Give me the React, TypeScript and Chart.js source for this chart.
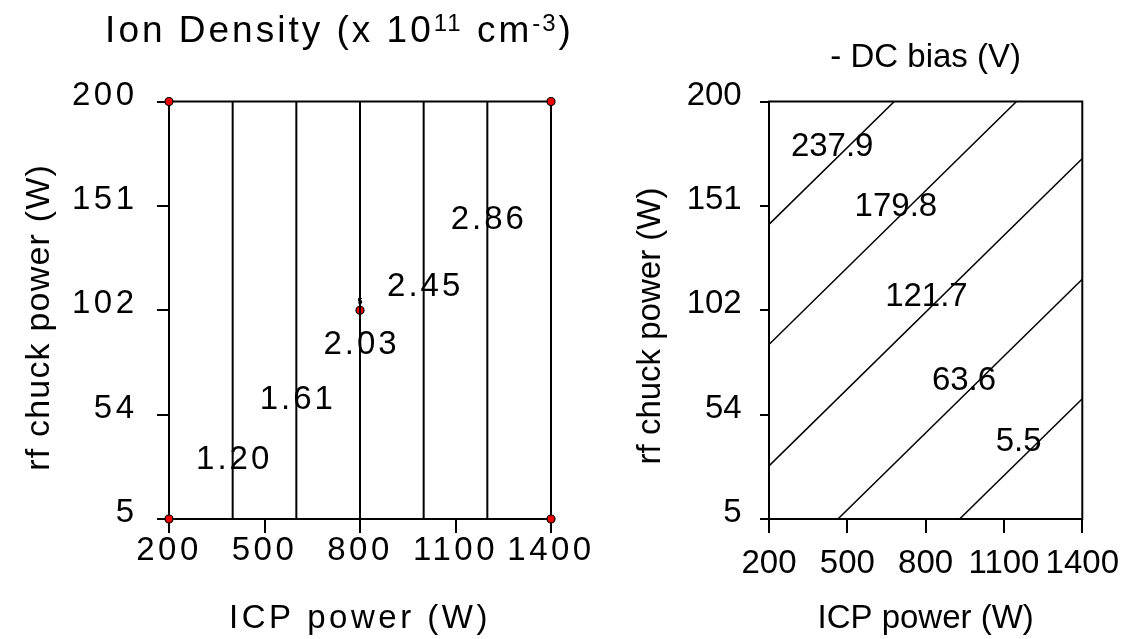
import React, { useEffect, useRef } from 'react';
import { Chart, registerables } from 'chart.js';

Chart.register(...registerables);

const FONT = "'Liberation Sans', Arial, Helvetica, sans-serif";

// Shared axes: ICP power (x) and rf chuck power (y)
const icpTicks = [200, 500, 800, 1100, 1400];
const rfTickValues = [5, 53.75, 102.5, 151.25, 200];
const rfTickLabels = ['5', '54', '102', '151', '200'];

// Ion density contours (x 10^11 cm^-3): vertical iso-lines
const densityLevels = ['1.20', '1.61', '2.03', '2.45', '2.86'];
const densityLineICP = [400, 600, 800, 1000, 1200];
const densityLabelRF = [32.8, 60.6, 86.3, 113.5, 144.7];

// Design points of the experiment
const runICP = [200, 200, 1400, 1400, 800];
const runRF = [5, 200, 5, 200, 102.5];
const centerRunLabel = '5';

// -DC bias contours (V): straight iso-lines between two end points
const biasLevels = ['237.9', '179.8', '121.7', '63.6', '5.5'];
const biasStartICP = [200, 200, 200, 464, 930];
const biasStartRF = [142.6, 86.5, 29.8, 5, 5];
const biasEndICP = [680, 1148, 1400, 1400, 1400];
const biasEndRF = [200, 200, 173.4, 117.0, 61.2];
const biasLabelICP = [442, 686, 803, 947, 1156];
const biasLabelRF = [178.9, 150.8, 108.7, 69.7, 40.9];

const densityTitle = [
  { text: 'Ion Density (x 10', sup: false },
  { text: '11', sup: true },
  { text: ' cm', sup: false },
  { text: '-3', sup: true },
  { text: ')', sup: false },
];
const biasTitle = '- DC bias (V)';
const xTitle = 'ICP power (W)';
const yTitle = 'rf chuck power (W)';

function spacedWidth(ctx: CanvasRenderingContext2D, text: string, spacing: number) {
  (ctx as any).letterSpacing = '0px';
  return ctx.measureText(text).width + Math.max(0, text.length - 1) * spacing;
}

function drawSpaced(ctx: CanvasRenderingContext2D, text: string, x: number, y: number, spacing: number) {
  (ctx as any).letterSpacing = `${spacing}px`;
  ctx.textAlign = 'left';
  ctx.fillText(text, x, y);
  (ctx as any).letterSpacing = '0px';
}

function drawCentered(ctx: CanvasRenderingContext2D, text: string, cx: number, cy: number, spacing: number) {
  const w = spacedWidth(ctx, text, spacing);
  drawSpaced(ctx, text, cx - w / 2, cy, spacing);
}

function xScale(tickPadding: number) {
  return {
    type: 'linear' as const,
    min: icpTicks[0],
    max: icpTicks[icpTicks.length - 1],
    afterBuildTicks: (s: any) => {
      s.ticks = icpTicks.map((value) => ({ value }));
    },
    afterFit: (s: any) => {
      s.height = 120;
    },
    ticks: {
      color: '#000',
      font: { family: FONT, size: 33 },
      padding: tickPadding,
      maxRotation: 0,
      autoSkip: false,
      callback: (v: any) => String(v),
    },
    grid: { drawOnChartArea: false, color: '#000', lineWidth: 2, tickLength: 14 },
    border: { display: true, color: '#000', width: 2 },
    title: {
      display: true,
      text: xTitle,
      color: '#000',
      font: { family: FONT, size: 33 },
      padding: { top: 0, bottom: 0 },
    },
  };
}

function yScale(tickLength: number, tickPadding: number) {
  return {
    type: 'linear' as const,
    min: rfTickValues[0],
    max: rfTickValues[rfTickValues.length - 1],
    afterBuildTicks: (s: any) => {
      s.ticks = rfTickValues.map((value) => ({ value }));
    },
    afterFit: (s: any) => {
      s.width = 169;
    },
    ticks: {
      color: '#000',
      font: { family: FONT, size: 33 },
      padding: tickPadding,
      labelOffset: -6,
      autoSkip: false,
      callback: (_v: any, i: number) => rfTickLabels[i],
    },
    grid: { drawOnChartArea: false, color: '#000', lineWidth: 2, tickLength },
    border: { display: true, color: '#000', width: 2 },
  };
}

function drawYTitle(ctx: CanvasRenderingContext2D, cx: number, cy: number, size: number, spacing: number) {
  ctx.save();
  ctx.translate(cx, cy);
  ctx.rotate(-Math.PI / 2);
  ctx.font = `${size}px ${FONT}`;
  ctx.fillStyle = '#000';
  ctx.textBaseline = 'middle';
  drawCentered(ctx, yTitle, 0, 0, spacing);
  ctx.restore();
}

function densityConfig(): any {
  const lineSets = densityLineICP.map((icp) => ({
    data: [
      { x: icp, y: rfTickValues[0] },
      { x: icp, y: rfTickValues[rfTickValues.length - 1] },
    ],
    showLine: true,
    borderColor: '#000',
    borderWidth: 2,
    pointRadius: 0,
  }));
  const runs = {
    data: runICP.map((x, i) => ({ x, y: runRF[i] })),
    showLine: false,
    pointRadius: 4,
    pointBackgroundColor: '#ee0000',
    pointBorderColor: '#000',
    pointBorderWidth: 1.2,
    clip: false,
  };
  const decor = {
    id: 'densityDecor',
    beforeDraw(chart: any) {
      chart.ctx.letterSpacing = '3.5px';
    },
    beforeDatasetsDraw(chart: any) {
      const { ctx, chartArea: a, scales } = chart;
      ctx.save();
      ctx.letterSpacing = '0px';
      ctx.strokeStyle = '#000';
      ctx.lineWidth = 2;
      ctx.strokeRect(a.left, a.top, a.right - a.left, a.bottom - a.top);
      ctx.fillStyle = '#000';
      ctx.font = `33px ${FONT}`;
      ctx.textBaseline = 'middle';
      densityLevels.forEach((lvl, i) => {
        const px = scales.x.getPixelForValue(densityLineICP[i]);
        const py = scales.y.getPixelForValue(densityLabelRF[i]);
        drawCentered(ctx, lvl, px, py, 3);
      });
      ctx.restore();
    },
    afterDraw(chart: any) {
      const { ctx, scales } = chart;
      ctx.save();
      ctx.letterSpacing = '0px';
      ctx.fillStyle = '#000';
      // run number above the centre point
      ctx.font = `bold 9px ${FONT}`;
      ctx.textAlign = 'center';
      ctx.textBaseline = 'alphabetic';
      ctx.fillText(
        centerRunLabel,
        scales.x.getPixelForValue(runICP[4]),
        scales.y.getPixelForValue(runRF[4]) - 6
      );
      // title with superscripts
      const main = 37;
      const sup = 24;
      const spacing = 3;
      const supSpacing = 2;
      let total = 0;
      const widths = densityTitle.map((p) => {
        ctx.font = `${p.sup ? sup : main}px ${FONT}`;
        const w = spacedWidth(ctx, p.text, p.sup ? supSpacing : spacing) + spacing;
        total += w;
        return w;
      });
      total -= spacing;
      let x = 338 - total / 2;
      const base = 42;
      ctx.textBaseline = 'alphabetic';
      densityTitle.forEach((p, i) => {
        ctx.font = `${p.sup ? sup : main}px ${FONT}`;
        drawSpaced(ctx, p.text, x, p.sup ? base - 11 : base, p.sup ? supSpacing : spacing);
        x += widths[i];
      });
      drawYTitle(ctx, 39.5, 318, 34, 1.2);
      ctx.restore();
      ctx.letterSpacing = '0px';
    },
  };
  return {
    type: 'scatter',
    data: { datasets: [...lineSets, runs] },
    options: {
      animation: false,
      responsive: false,
      maintainAspectRatio: false,
      events: [],
      layout: { padding: { left: 0, top: 101.5, right: 49, bottom: 0 } },
      plugins: { legend: { display: false }, tooltip: { enabled: false } },
      scales: { x: xScale(-1.5), y: yScale(12, 19.5) },
    },
    plugins: [decor],
  };
}

function biasConfig(): any {
  const lineSets = biasLevels.map((_l, i) => ({
    data: [
      { x: biasStartICP[i], y: biasStartRF[i] },
      { x: biasEndICP[i], y: biasEndRF[i] },
    ],
    showLine: true,
    borderColor: '#000',
    borderWidth: 1.5,
    pointRadius: 0,
  }));
  const decor = {
    id: 'biasDecor',
    beforeDatasetsDraw(chart: any) {
      const { ctx, chartArea: a, scales } = chart;
      ctx.save();
      ctx.strokeStyle = '#000';
      ctx.lineWidth = 2;
      ctx.strokeRect(a.left, a.top, a.right - a.left, a.bottom - a.top);
      ctx.fillStyle = '#000';
      ctx.font = `33px ${FONT}`;
      ctx.textBaseline = 'middle';
      biasLevels.forEach((lvl, i) => {
        const px = scales.x.getPixelForValue(biasLabelICP[i]);
        const py = scales.y.getPixelForValue(biasLabelRF[i]);
        drawCentered(ctx, lvl, px, py, 0);
      });
      ctx.restore();
    },
    afterDraw(chart: any) {
      const { ctx, scales } = chart;
      ctx.save();
      ctx.fillStyle = '#000';
      ctx.font = `33px ${FONT}`;
      ctx.textBaseline = 'alphabetic';
      drawCentered(ctx, biasTitle, (scales.x.left + scales.x.right) / 2, 67, 0);
      drawYTitle(ctx, 51, 326, 33, 0);
      ctx.restore();
    },
  };
  return {
    type: 'scatter',
    data: { datasets: lineSets },
    options: {
      animation: false,
      responsive: false,
      maintainAspectRatio: false,
      events: [],
      layout: { padding: { left: 0, top: 101.5, right: 41.7, bottom: 0 } },
      plugins: { legend: { display: false }, tooltip: { enabled: false } },
      scales: { x: xScale(11), y: yScale(9, 18.3) },
    },
    plugins: [decor],
  };
}

export default function App() {
  const leftRef = useRef<HTMLCanvasElement>(null);
  const rightRef = useRef<HTMLCanvasElement>(null);

  useEffect(() => {
    const left = new Chart(leftRef.current as HTMLCanvasElement, densityConfig());
    const right = new Chart(rightRef.current as HTMLCanvasElement, biasConfig());
    return () => {
      left.destroy();
      right.destroy();
    };
  }, []);

  return (
    <div style={{ position: 'fixed', left: 0, top: 0, width: 1130, height: 639, background: '#fff' }}>
      <canvas
        ref={leftRef}
        width={600}
        height={639}
        style={{ position: 'absolute', left: 0, top: 0, width: 600, height: 639 }}
      />
      <canvas
        ref={rightRef}
        width={530}
        height={639}
        style={{ position: 'absolute', left: 600, top: 0, width: 530, height: 639 }}
      />
    </div>
  );
}
